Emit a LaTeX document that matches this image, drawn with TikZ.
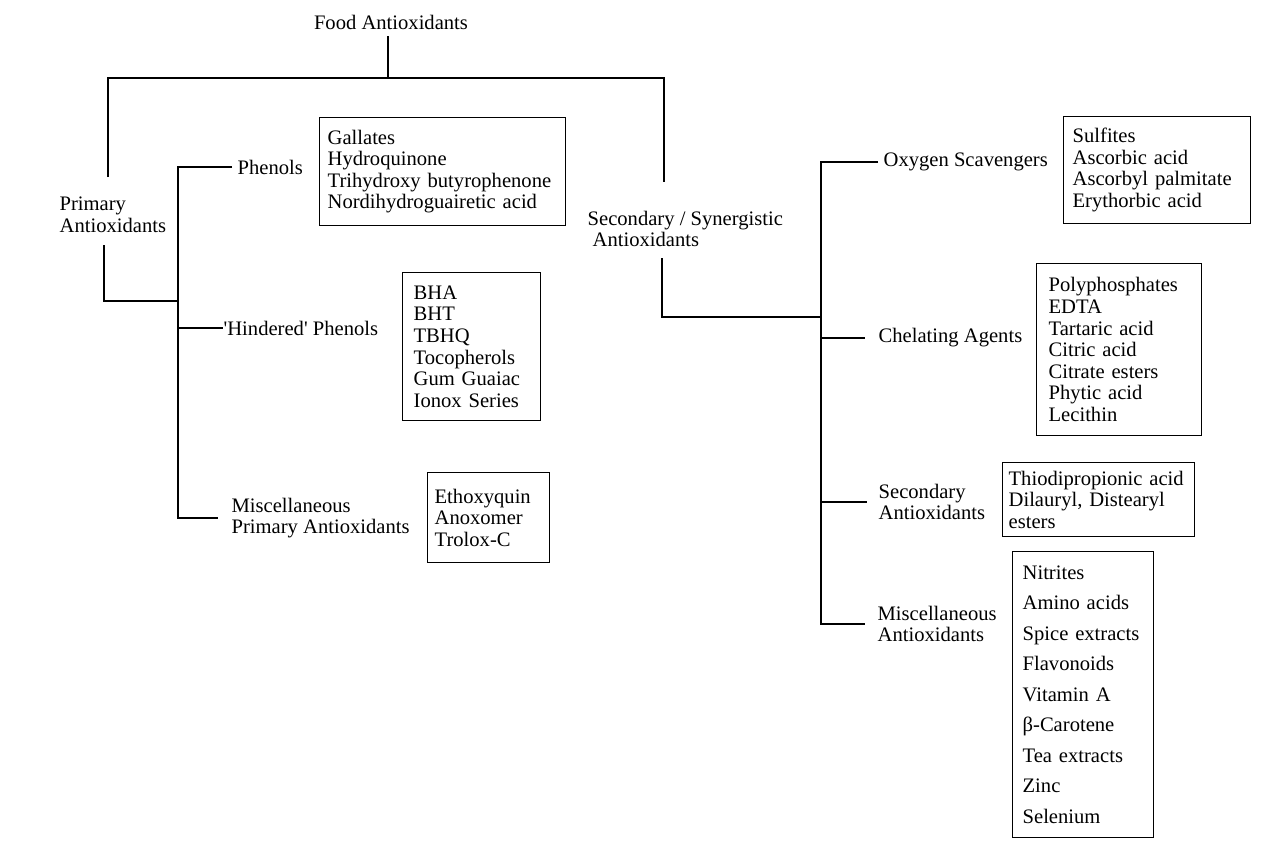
\documentclass[tikz,border=0pt]{standalone}
\usepackage{fontspec}
\setmainfont{Liberation Serif}

\begin{document}
\begin{tikzpicture}[x=1pt,y=-1pt,line width=1.3pt,
	lbl/.style={inner sep=0pt,anchor=west,align=left,font=\fontsize{20.6}{21.6}\selectfont},
	listbox/.style={draw,anchor=north west,align=left,inner ysep=0pt,font=\fontsize{20.6}{21.6}\selectfont}]
		\useasboundingbox (0,0) rectangle (1275,855);
		% top of the tree
		\draw (0,0) ++ (391,22) node (food) [lbl,anchor=center] {Food Antioxidants};
		\coordinate (stem) at (388,36);
		\coordinate (barL) at (108,78);
		\coordinate (barR) at (664,78);
		\coordinate (pin) at (108,177);
		\coordinate (sin) at (664,182);
		\draw (stem) -- (stem |- barL);
		\draw (pin) -- (barL) -- (barR) -- (sin);
		%
		\draw (0,0) ++ (59,215) node (prim) [lbl] {Primary\\Antioxidants};
		\coordinate (pout) at (104,245);
		\coordinate (pbr) at (178,301);
		\draw (pout) |- (pbr);
		\draw (0,0) ++ (237,167) node (phen) [lbl] {Phenols};
		\draw (0,0) ++ (223,328) node (hind) [lbl] {\textquotesingle Hindered\textquotesingle\ Phenols};
		\draw (0,0) ++ (231,518) node (mpa) [lbl] {Miscellaneous\\Primary Antioxidants};
		\draw ([xshift=-5pt]phen.west) -- (phen.west -| pbr) -- (mpa.west -| pbr) -- ([xshift=-13pt]mpa.west);
		\draw (hind.west -| pbr) -- (hind.west);
		%
		\draw (0,0) ++ (319,117) node (gallbox) [listbox,text width=230pt,inner xsep=8pt,minimum height=108pt] {Gallates\\Hydroquinone\\Trihydroxy butyrophenone\\Nordihydroguairetic acid};
		\draw (0,0) ++ (402,272) node (hindbox) [listbox,text width=116pt,inner xsep=11pt,minimum height=148pt] {BHA\\BHT\\TBHQ\\Tocopherols\\Gum Guaiac\\Ionox Series};
		\draw (0,0) ++ (427,472) node (mpabox) [listbox,text width=108pt,inner xsep=7pt,minimum height=90pt] {Ethoxyquin\\Anoxomer\\Trolox-C};
		%
		\draw (0,0) ++ (587,229) node (sec) [lbl] {Secondary / Synergistic\\\hspace*{5pt}Antioxidants};
		\coordinate (sout) at (662,258);
		\coordinate (sbr) at (821,317);
		\draw (sout) |- (sbr);
		\draw (820,0) ++ (63,162) node (oxy) [lbl] {Oxygen Scavengers};
		\draw (820,0) ++ (58,338) node (chel) [lbl] {Chelating Agents};
		\draw (820,0) ++ (58,502) node (seca) [lbl] {Secondary\\Antioxidants};
		\draw (820,0) ++ (57,624) node (misca) [lbl] {Miscellaneous\\Antioxidants};
		\draw ([xshift=-5pt]oxy.west) -- (oxy.west -| sbr) -- (misca.west -| sbr) -- ([xshift=-12pt]misca.west);
		\draw (chel.west -| sbr) -- ([xshift=-13pt]chel.west);
		\draw (seca.west -| sbr) -- ([xshift=-11pt]seca.west);
		%
		\draw (0,0) ++ (1063,116) node (oxybox) [listbox,text width=169pt,inner xsep=9pt,minimum height=107pt] {Sulfites\\Ascorbic acid\\Ascorbyl palmitate\\Erythorbic acid};
		\draw (0,0) ++ (1036,263) node (chelbox) [listbox,text width=141pt,inner xsep=12pt,minimum height=172pt] {Polyphosphates\\EDTA\\Tartaric acid\\Citric acid\\Citrate esters\\Phytic acid\\Lecithin};
		\draw (0,0) ++ (1002,462) node (secabox) [listbox,text width=180pt,inner xsep=6pt,minimum height=74pt] {Thiodipropionic acid\\Dilauryl, Distearyl\\esters};
		\draw (0,0) ++ (1012,551) node (miscabox) [listbox,text width=121pt,inner xsep=10pt,minimum height=286pt,font=\fontsize{20.6}{30.5}\selectfont] {Nitrites\\Amino acids\\Spice extracts\\Flavonoids\\Vitamin A\\β-Carotene\\Tea extracts\\Zinc\\Selenium};
	\end{tikzpicture}
\end{document}
